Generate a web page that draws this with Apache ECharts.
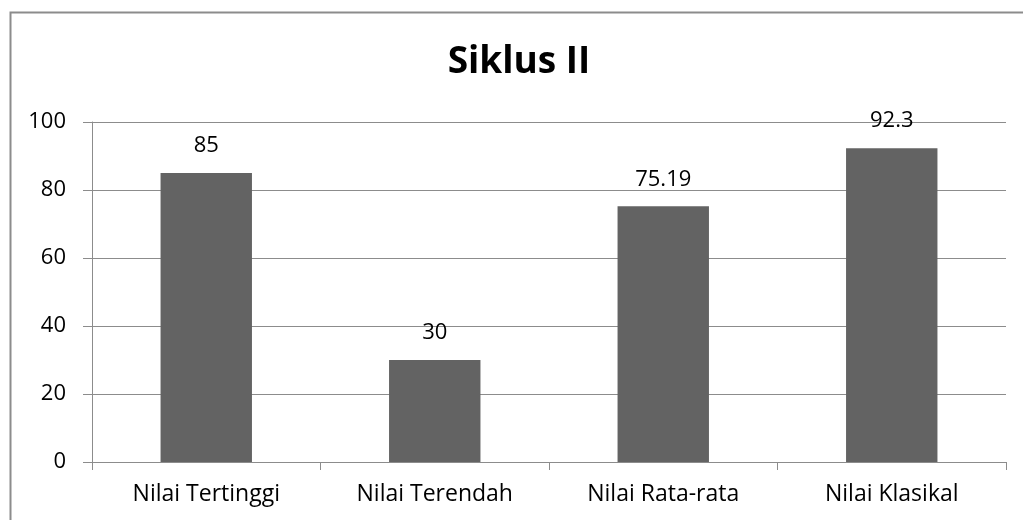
<!DOCTYPE html>
<html><head><meta charset="utf-8">
<script src="https://cdn.jsdelivr.net/npm/echarts@6/dist/echarts.min.js"></script>
<style>html,body{margin:0;padding:0;background:#fff}#c{width:1023px;height:520px}</style>
</head><body><div id="c"></div>
<script>
var categories = ['Nilai Tertinggi', 'Nilai Terendah', 'Nilai Rata-rata', 'Nilai Klasikal'];
var values = [85, 30, 75.19, 92.3];
var titleText = 'Siklus II';

var chart = echarts.init(document.getElementById('c'));
var FONT = 'Open Sans';
chart.setOption({
  animation: false,
  backgroundColor: '#fff',
  title: {
    text: titleText, left: 514, top: 39, textAlign: 'center',
    textStyle: {fontFamily: FONT, fontSize: 37, fontWeight: 'bold', color: '#000'}
  },
  graphic: [{
    type: 'rect', left: 8, top: 10, z: 100, silent: true,
    shape: {width: 1040, height: 540},
    style: {fill: 'none', stroke: '#8c8c8c', lineWidth: 2}
  }],
  grid: {left: 92, right: 17, top: 122, bottom: 58},
  xAxis: {
    type: 'category', data: categories,
    axisLine: {lineStyle: {color: '#8c8c8c', width: 1}},
    axisTick: {show: true, length: 8, lineStyle: {color: '#8c8c8c'}},
    axisLabel: {fontFamily: FONT, fontSize: 23, color: '#000', margin: 21}
  },
  yAxis: {
    type: 'value', min: 0, max: 100, interval: 20,
    axisLine: {show: true, lineStyle: {color: '#8c8c8c', width: 1}},
    axisTick: {show: true, length: 9, lineStyle: {color: '#8c8c8c'}},
    splitLine: {lineStyle: {color: '#8c8c8c', width: 1}},
    axisLabel: {fontFamily: FONT, fontSize: 22, color: '#000', margin: 26}
  },
  series: [{
    type: 'bar', data: values, barWidth: '40%',
    itemStyle: {color: '#636363'},
    label: {show: true, position: 'top', distance: 16, fontFamily: FONT, fontSize: 22, color: '#000'}
  }]
});
</script></body></html>
